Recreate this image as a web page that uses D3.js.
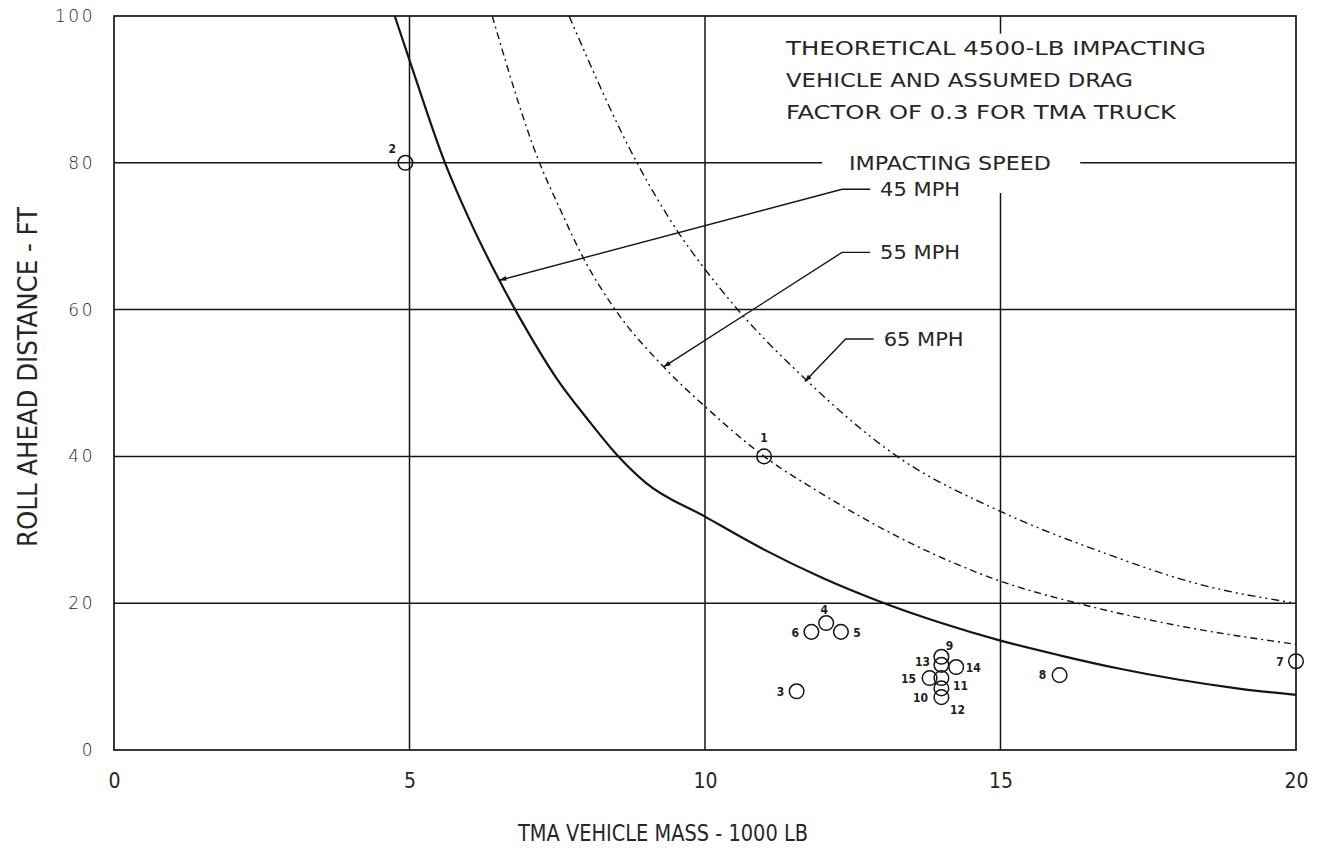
<!DOCTYPE html>
<html><head><meta charset="utf-8">
<script src="https://cdn.jsdelivr.net/npm/d3@7/dist/d3.min.js"></script>
<style>body{margin:0;background:#fff}</style>
</head><body><svg id="c" width="1326" height="854"></svg>
<script>
// ---- data ----
const xTicks = [0, 5, 10, 15, 20];
const yTicks = [0, 20, 40, 60, 80, 100];
const curve45 = [[4.75,100],[5.0,94],[5.6,80],[6.0,72.5],[6.5,64.3],[7.0,57],[7.5,50.5],[8.0,45.2],[8.5,40.3],[9.0,36.4],[10,31.8],[11,27.3],[12,23.4],[13,20.1],[14,17.3],[15,14.9],[16,12.9],[17,11.1],[18,9.6],[19,8.4],[20,7.5]];
const curve55 = [[6.4,100],[7.2,80],[7.53,74],[7.95,66.9],[8.48,60],[9.3,52.2],[10,46.8],[11,40],[12,34.8],[13.3,28.9],[15,23],[16.4,19.8],[18.1,16.8],[20,14.4]];
const curve65 = [[7.7,100],[8.85,80],[9.55,70.5],[10.0,65.5],[10.5,60.5],[11.7,50.5],[13.25,40],[15,32.5],[16.7,27],[18.4,22.5],[20,20]];
const testIds = ["1","2","3","4","5","6","7","8","9","10","11","12","13","14","15"];
const testMass = [11.0, 4.93, 11.55, 12.05, 12.3, 11.8, 20.0, 16.0, 14.0, 14.0, 14.0, 14.0, 14.0, 14.25, 13.8];
const testRoll = [40.0, 80.0, 8.0, 17.3, 16.1, 16.1, 12.1, 10.2, 12.7, 8.4, 9.8, 7.2, 11.6, 11.3, 9.8];
const noteLines = ["THEORETICAL 4500-LB IMPACTING", "VEHICLE AND ASSUMED DRAG", "FACTOR OF 0.3 FOR TMA TRUCK"];
const speedLabels = ["45 MPH", "55 MPH", "65 MPH"];
// leader: elbow point (data) and tip on curve (data)
const leaderElbow = [[12.32, 76.4], [12.32, 67.8], [12.38, 56.0]];
const leaderTip = [[6.52, 64.0], [9.3, 52.2], [11.69, 50.2]];

// ---- layout ----
const M = {l:114, t:16, r:1296, b:750};
const svg = d3.select("#c");
const x = d3.scaleLinear().domain([0,20]).range([M.l, M.r]);
const y = d3.scaleLinear().domain([0,100]).range([M.b, M.t]);
const ink = "#141414";
const txt = "#262626";
const cond = "'DejaVu Sans Condensed','DejaVu Sans',sans-serif";

svg.append("defs").append("marker").attr("id","ar").attr("viewBox","0 0 10 10")
  .attr("refX",10).attr("refY",5).attr("markerWidth",9).attr("markerHeight",7)
  .attr("markerUnits","userSpaceOnUse").attr("orient","auto")
  .append("path").attr("d","M0,1.5L10,5L0,8.5Z").attr("fill",ink);

const g = svg.append("g");
// grid
const grid = g.append("g").attr("stroke", ink).attr("stroke-width", 1.5).attr("fill","none");
[5,10].forEach(v => grid.append("line").attr("x1",x(v)).attr("x2",x(v)).attr("y1",y(0)).attr("y2",y(100)));
grid.append("line").attr("x1",x(15)).attr("x2",x(15)).attr("y1",y(0)).attr("y2",y(75.9));
grid.append("line").attr("x1",x(15)).attr("x2",x(15)).attr("y1",y(100)).attr("y2",y(97.6));
[20,40,60].forEach(v => grid.append("line").attr("x1",x(0)).attr("x2",x(20)).attr("y1",y(v)).attr("y2",y(v)));
grid.append("line").attr("x1",x(0)).attr("x2",x(11.98)).attr("y1",y(80)).attr("y2",y(80));
grid.append("line").attr("x1",x(16.35)).attr("x2",x(20)).attr("y1",y(80)).attr("y2",y(80));
// frame
g.append("rect").attr("x",x(0)).attr("y",y(100)).attr("width",x(20)-x(0)).attr("height",y(0)-y(100))
  .attr("fill","none").attr("stroke",ink).attr("stroke-width",1.7);

// axes tick labels using d3 axes (no domain / tick lines)
const xAxis = g.append("g").attr("transform",`translate(0,${y(0)})`)
  .call(d3.axisBottom(x).tickValues(xTicks).tickSize(0).tickPadding(23).tickFormat(d3.format("d")));
xAxis.select(".domain").remove();
xAxis.selectAll("text").attr("font-family",cond).attr("font-size",21).attr("font-weight",300).attr("fill",txt);
const yAxis = g.append("g").attr("transform",`translate(${x(0)},0)`)
  .call(d3.axisLeft(y).tickValues(yTicks).tickSize(0).tickPadding(19).tickFormat(d3.format("d")));
yAxis.select(".domain").remove();
yAxis.selectAll("text").attr("font-family","'DejaVu Sans',sans-serif").attr("font-size",17).attr("font-weight",300)
  .attr("letter-spacing",2.5).attr("fill",txt);

// axis titles
svg.append("text").attr("x",663).attr("y",841).attr("text-anchor","middle")
  .attr("font-family",cond).attr("font-size",23).attr("font-weight",300).attr("fill",txt)
  .attr("textLength",290).attr("lengthAdjust","spacingAndGlyphs").text("TMA VEHICLE MASS - 1000 LB");
svg.append("text").attr("transform","translate(37,377) rotate(-90)").attr("text-anchor","middle")
  .attr("font-family",cond).attr("font-size",26).attr("font-weight",300).attr("fill",txt)
  .attr("textLength",340).attr("lengthAdjust","spacingAndGlyphs").text("ROLL AHEAD DISTANCE - FT");

// curves
const line = d3.line().x(d=>x(d[0])).y(d=>y(d[1])).curve(d3.curveMonotoneX);
g.append("path").datum(curve45).attr("d",line).attr("fill","none").attr("stroke",ink).attr("stroke-width",2.2);
g.append("path").datum(curve55).attr("d",line).attr("fill","none").attr("stroke",ink).attr("stroke-width",1.4)
  .attr("stroke-dasharray","7 4 2 4");
g.append("path").datum(curve65).attr("d",line).attr("fill","none").attr("stroke",ink).attr("stroke-width",1.4)
  .attr("stroke-dasharray","8 4 2 4 2 4");

// note text
const noteW = [420, 347, 390];
noteLines.forEach((t,i) => svg.append("text").attr("x",786).attr("y",55+i*32)
  .attr("font-family",cond).attr("font-size",19).attr("font-weight",300).attr("fill",txt)
  .attr("textLength",noteW[i]).attr("lengthAdjust","spacingAndGlyphs").text(t));
svg.append("text").attr("x",849).attr("y",170).attr("font-family",cond).attr("font-size",19).attr("font-weight",300)
  .attr("fill",txt).attr("textLength",202).attr("lengthAdjust","spacingAndGlyphs").text("IMPACTING SPEED");

// leaders
speedLabels.forEach((t,i) => {
  const e = leaderElbow[i], tp = leaderTip[i];
  const ex = x(e[0]), ey = y(e[1]);
  svg.append("path").attr("d",`M${ex+28},${ey}L${ex},${ey}L${x(tp[0])},${y(tp[1])}`)
    .attr("fill","none").attr("stroke",ink).attr("stroke-width",1.4).attr("marker-end","url(#ar)");
  svg.append("text").attr("x",ex+38).attr("y",ey+7).attr("font-family",cond).attr("font-size",19).attr("font-weight",300)
    .attr("fill",txt).attr("textLength",80).attr("lengthAdjust","spacingAndGlyphs").text(t);
});

// test points
const labOff = {"1":[0,-19,"middle"],"2":[-13,-14,"middle"],"3":[-16,0,"middle"],"4":[-2,-13,"middle"],
  "5":[16,1,"middle"],"6":[-16,1,"middle"],"7":[-16,0,"middle"],"8":[-17,0,"middle"],
  "9":[8,-11,"middle"],"10":[-21,9,"middle"],"11":[19,8,"middle"],"12":[16,13,"middle"],
  "13":[-19,-3,"middle"],"14":[17,1,"middle"],"15":[-21,1,"middle"]};
const pts = testIds.map((id,i)=>({id, m:testMass[i], r:testRoll[i]}));
const pg = g.append("g");
pg.selectAll("circle").data(pts).join("circle").attr("cx",d=>x(d.m)).attr("cy",d=>y(d.r)).attr("r",7.3)
  .attr("fill","none").attr("stroke",ink).attr("stroke-width",1.5);
pg.selectAll("text").data(pts).join("text").attr("x",d=>x(d.m)+labOff[d.id][0]).attr("y",d=>y(d.r)+labOff[d.id][1])
  .attr("dy","0.36em").attr("text-anchor",d=>labOff[d.id][2]).attr("font-family",cond)
  .attr("font-size",12).attr("font-weight","bold").attr("fill","#1e1e1e").text(d=>d.id);
</script></body></html>
